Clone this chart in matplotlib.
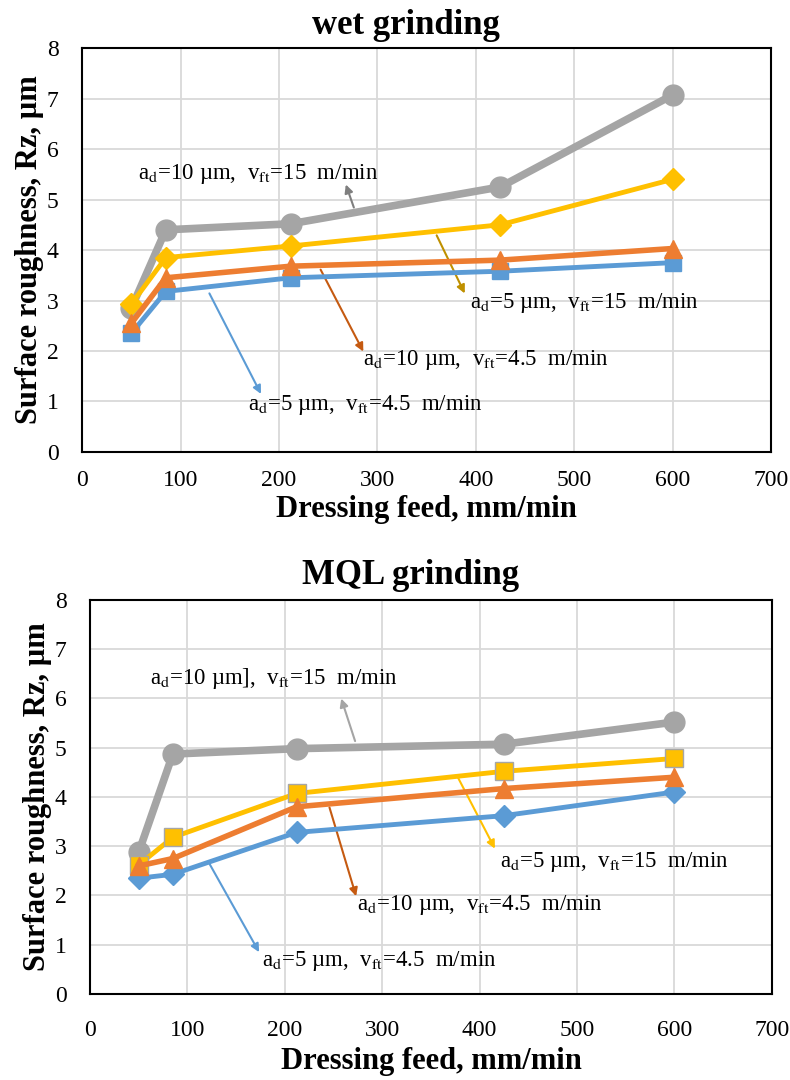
import matplotlib
matplotlib.use('Agg')
import matplotlib.pyplot as plt

plt.rcParams['font.family'] = ['Liberation Serif', 'DejaVu Serif']
plt.rcParams['mathtext.fontset'] = 'stix'

# dressing feed, mm/min
feed = [50, 85, 212, 425, 600]

# wet grinding, Rz in um
wet_10_15 = [2.85, 4.40, 4.52, 5.25, 7.07]
wet_5_15 = [2.93, 3.85, 4.08, 4.50, 5.40]
wet_10_45 = [2.55, 3.45, 3.68, 3.80, 4.03]
wet_5_45 = [2.35, 3.18, 3.45, 3.58, 3.75]

# MQL grinding, Rz in um
mql_10_15 = [2.88, 4.87, 4.98, 5.07, 5.52]
mql_5_15 = [2.62, 3.18, 4.07, 4.52, 4.78]
mql_10_45 = [2.60, 2.75, 3.80, 4.17, 4.40]
mql_5_45 = [2.35, 2.43, 3.28, 3.62, 4.10]

GRAY = '#A5A5A5'
YEL = '#FFC000'
ORG = '#ED7D31'
BLU = '#5B9BD5'


def lab(ad, vft, bracket=''):
    return 'a$_{\\mathrm{d}}$=' + ad + ' µm' + bracket + ',  v$_{\\mathrm{ft}}$=' + vft + '  m/min'


def setup(ax, title, xpad, xlabpad, title_y):
    ax.set_xlim(0, 700)
    ax.set_ylim(0, 8)
    ax.set_xticks(range(0, 701, 100))
    ax.set_yticks(range(0, 9))
    ax.grid(True, color='#D9D9D9', lw=1.3)
    ax.set_axisbelow(True)
    for s in ax.spines.values():
        s.set_linewidth(1.5)
        s.set_color('black')
    ax.tick_params(length=0, labelsize=17)
    ax.tick_params(axis='x', pad=xpad)
    ax.tick_params(axis='y', pad=17)
    ax.set_title(title, fontsize=25, fontweight='bold', x=0.47, y=title_y)
    ax.set_xlabel('Dressing feed, mm/min', fontsize=22, fontweight='bold', labelpad=xlabpad)
    ax.set_ylabel('Surface roughness, Rz, µm', fontsize=22, fontweight='bold', labelpad=2)


def note(ax, text, tail, head, txt_xy, color):
    ax.annotate('', xy=head, xytext=tail,
                arrowprops=dict(arrowstyle='-|>', color=color, lw=1.5, mutation_scale=12))
    ax.text(txt_xy[0], txt_xy[1], text, fontsize=16.5, va='center', ha='left')


fig = plt.figure(figsize=(7.9, 10.8), dpi=100)

# wet grinding
ax1 = fig.add_axes([0.104, 0.5815, 0.872, 0.374])
ax1.plot(feed, wet_10_15, color=GRAY, lw=5.5, marker='o', ms=15, mec=GRAY, zorder=3)
ax1.plot(feed, wet_5_15, color=YEL, lw=3.5, marker='D', ms=11, mec=YEL, zorder=4)
ax1.plot(feed, wet_10_45, color=ORG, lw=4, marker='^', ms=13, mec=ORG, zorder=5)
ax1.plot(feed, wet_5_45, color=BLU, lw=3.5, marker='s', ms=12, mec=BLU, zorder=4)
setup(ax1, 'wet grinding', 13, 3, 1.015)
note(ax1, lab('10', '15'), (277, 4.79), (267, 5.35), (57, 5.5), '#7F7F7F')
note(ax1, lab('5', '15'), (359, 4.34), (390, 3.09), (394, 2.95), '#BF9000')
note(ax1, lab('10', '4.5'), (241, 3.66), (287, 1.94), (285, 1.82), '#C55A11')
note(ax1, lab('5', '4.5'), (128, 3.19), (183, 1.1), (169, 0.93), BLU)

# MQL grinding
ax2 = fig.add_axes([0.114, 0.0796, 0.863, 0.365])
ax2.plot(feed, mql_10_15, color=GRAY, lw=5.5, marker='o', ms=15, mec=GRAY, zorder=3)
ax2.plot(feed, mql_5_15, color=YEL, lw=3.5, marker='s', ms=13, mec='#A6A6A6', zorder=4)
ax2.plot(feed, mql_10_45, color=ORG, lw=4, marker='^', ms=13, mec=ORG, zorder=5)
ax2.plot(feed, mql_5_45, color=BLU, lw=3.5, marker='D', ms=11, mec=BLU, zorder=4)
setup(ax2, 'MQL grinding', 19, 4, 1.02)
note(ax2, lab('10', '15', ']'), (273, 5.08), (257, 6.05), (62, 6.4), '#A5A5A5')
note(ax2, lab('5', '15'), (376, 4.46), (417, 2.9), (421, 2.68), YEL)
note(ax2, lab('10', '4.5'), (245, 3.84), (274, 1.93), (274, 1.8), '#C55A11')
note(ax2, lab('5', '4.5'), (121, 2.7), (175, 0.8), (177, 0.68), BLU)

fig.savefig('out.png', dpi=100)
